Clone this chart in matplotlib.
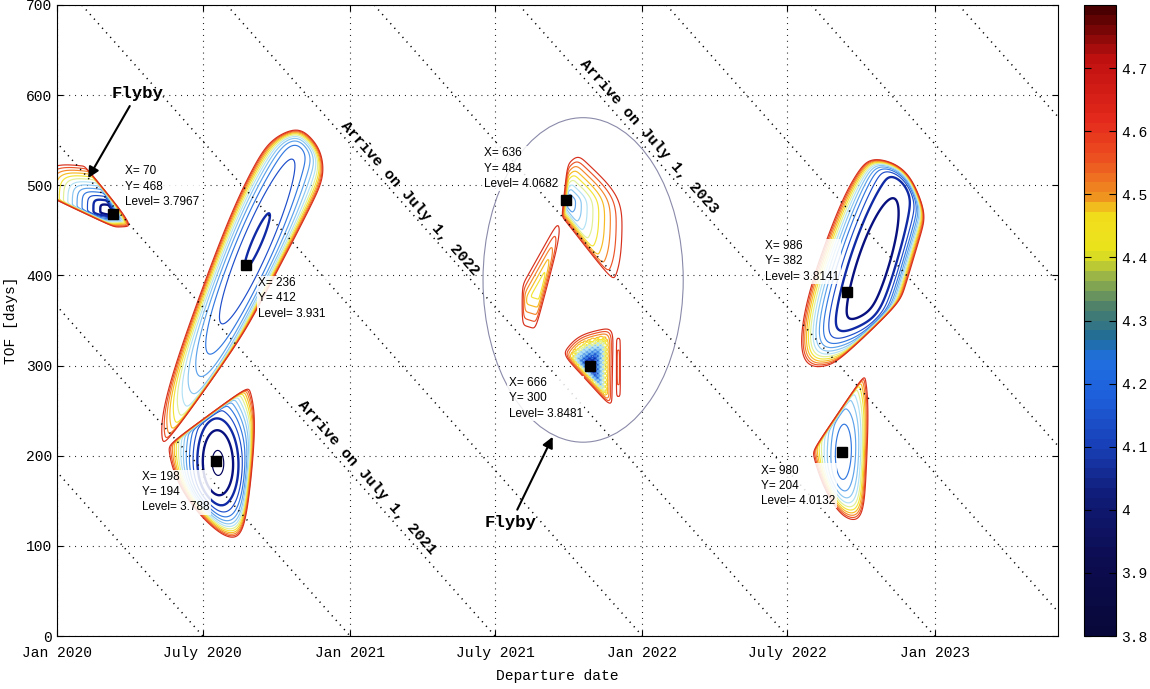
import numpy as np
import matplotlib
matplotlib.use("Agg")
import matplotlib as mpl
import matplotlib.pyplot as plt
from matplotlib.patches import Ellipse

plt.rcParams['font.family'] = 'Liberation Mono'

# departure axis, days after 1 Jan 2020
date_ticks = [0, 182, 366, 547, 731, 912, 1096]
date_names = ["Jan 2020", "July 2020", "Jan 2021", "July 2021",
              "Jan 2022", "July 2022", "Jan 2023"]
tof_ticks = [0, 100, 200, 300, 400, 500, 600, 700]

# lines of constant arrival date (1 Jan / 1 July), departure + TOF
arrive_days = [182, 366, 547, 731, 912, 1096, 1277, 1461, 1642, 1826]
arrive_names = ["Arrive on July 1, 2021", "Arrive on July 1, 2022", "Arrive on July 1, 2023"]
arrive_lab_x = [387, 441, 739]
arrive_lab_y = [176, 486, 554]

# data tips
tip_x = [70, 236, 198, 636, 666, 986, 980]
tip_y = [468, 412, 194, 484, 300, 382, 204]
tip_level = ["3.7967", "3.931", "3.788", "4.0682", "3.8481", "3.8141", "4.0132"]
tip_box_x = [85, 251, 106, 533, 564, 884, 879]
tip_box_y = [522, 398, 183, 542, 287, 439, 190]

# launch windows: low point, level there, outline, edge steepness, profile power,
# and inner valley (half length, half width, angle in degrees)
a_mid, a_low, a_pow, a_oval = (68, 470), 3.7967, 1.4, None
a_edge = [(-20, 444), (60, 451), (89, 446), (113, 436), (82, 470), (45, 524), (5, 532), (-20, 530)]
a_sharp = [1, 1, 4, 4, 1, 1, 1, 1]

b_mid, b_low, b_pow, b_oval = (250, 438), 3.931, 2.0, (330, 55, 64)
b_edge = [(124, 197), (245, 348), (282, 408), (338, 504), (333, 540), (303, 567),
          (264, 555), (225, 506), (140, 306), (111, 234)]
b_sharp = [6, 2, 1, 3, 3, 3, 1, 1, 1, 1]

c_mid, c_low, c_pow, c_oval = (201, 192), 3.788, 2.0, (125, 65, 92)
c_edge = [(226, 94), (235, 104), (254, 267), (249, 284), (126, 204), (143, 163), (174, 126)]
c_sharp = [1, 1.5, 1, 6, 1, 1, 1]

d_mid, d_low, d_pow, d_oval = (639, 484), 4.0682, 1.0, None
d_edge = [(630, 465), (704, 381), (711, 385), (711, 488), (649, 540), (637, 525)]
d_sharp = [2, 1, 1, 1, 1, 1]

d2_mid, d2_low, d2_pow, d2_oval = (603, 385), 4.36, 1.2, None
d2_edge = [(580, 340), (625, 328), (630, 445), (645, 495), (580, 392)]
d2_sharp = [1, 1, 1, 1, 3]

e_mid, e_low, e_pow, e_oval = (666, 300), 3.8481, 1.2, None
e_edge = [(630, 313), (694, 251), (696, 345), (646, 335)]
e_sharp = [1, 1, 1, 1]

s_mid, s_low, s_pow, s_oval = (701, 298), 4.58, 1.5, None
s_edge = [(698, 258), (704, 258), (704, 338), (698, 338)]
s_sharp = [1, 1, 1, 1]

f_mid, f_low, f_pow, f_oval = (1018, 410), 3.8141, 2.0, (330, 80, 70)
f_edge = [(928, 282), (974, 301), (1055, 372), (1087, 467), (1067, 511), (1049, 526),
          (1010, 534), (979, 508), (951, 452), (921, 384), (911, 310)]
f_sharp = [1, 5, 1, 4, 4, 4, 2, 1, 1, 1, 1]

g_mid, g_low, g_pow, g_oval = (982, 204), 4.0132, 1.6, (140, 45, 88)
g_edge = [(985, 121), (1009, 125), (1017, 292), (1014, 298), (940, 201), (954, 160)]
g_sharp = [1, 1, 1, 5, 1, 1]

TOP = 4.76
levels = 3.80 + 0.07 * np.arange(14)

# printed jet, as on the colour scale
bar_stops = [(0.00, '#08083a'), (0.12, '#0c0c52'), (0.22, '#101c78'), (0.30, '#1840b8'),
             (0.38, '#1e60dc'), (0.44, '#2070e0'), (0.47, '#206c98'), (0.52, '#4a7e6c'),
             (0.57, '#98b448'), (0.61, '#e8e41c'), (0.67, '#f2dc1c'), (0.70, '#f09020'),
             (0.76, '#ec5020'), (0.82, '#e42a1c'), (0.92, '#c01010'), (1.00, '#4a0000')]
line_stops = [(0.00, '#00005a'), (0.10, '#0a1890'), (0.20, '#1a48c8'), (0.30, '#3a86e6'),
              (0.40, '#80c0f0'), (0.50, '#b8e6f4'), (0.58, '#eef27a'), (0.65, '#f5e020'),
              (0.73, '#f8a828'), (0.81, '#f26a30'), (0.89, '#e03820'), (1.00, '#b01010')]
bar_cmap = mpl.colors.LinearSegmentedColormap.from_list('bar', bar_stops, N=64)
line_cmap = mpl.colors.LinearSegmentedColormap.from_list('lines', line_stops)


def region(X, Y, mid, low, edge, sharp, q, oval, p=6):
    pts = np.array(edge, float)
    cx, cy = mid
    xs, ys = pts[:, 0], pts[:, 1]
    orient = np.sign(np.sum(xs * np.roll(ys, -1) - np.roll(xs, -1) * ys))
    acc = np.zeros_like(X)
    for i in range(len(pts)):
        x0, y0 = pts[i]
        x1, y1 = pts[(i + 1) % len(pts)]
        nx, ny = orient * (y1 - y0), -orient * (x1 - x0)
        h = nx * (x0 - cx) + ny * (y0 - cy)
        t = np.clip((nx * (X - cx) + ny * (Y - cy)) / h, 0, 4)
        acc += (t ** sharp[i]) ** p
    g = acc ** (1.0 / p)
    if oval is not None:
        la, lb, deg = oval
        c, s = np.cos(np.radians(deg)), np.sin(np.radians(deg))
        u = (X - cx) * c + (Y - cy) * s
        v = -(X - cx) * s + (Y - cy) * c
        e = np.hypot(u / la, v / lb)
        g = (e ** 4 + g ** 10) ** 0.25
    return low + (TOP - low) * g ** q, g


xs = np.arange(0, 1251, 1.0)
ys = np.arange(0, 701, 1.0)
X, Y = np.meshgrid(xs, ys)

field = np.full_like(X, 10.0)
for mid, low, edge, sharp, q, oval in [
        (a_mid, a_low, a_edge, a_sharp, a_pow, a_oval),
        (b_mid, b_low, b_edge, b_sharp, b_pow, b_oval),
        (c_mid, c_low, c_edge, c_sharp, c_pow, c_oval),
        (d_mid, d_low, d_edge, d_sharp, d_pow, d_oval),
        (d2_mid, d2_low, d2_edge, d2_sharp, d2_pow, d2_oval),
        (s_mid, s_low, s_edge, s_sharp, s_pow, s_oval),
        (f_mid, f_low, f_edge, f_sharp, f_pow, f_oval),
        (g_mid, g_low, g_edge, g_sharp, g_pow, g_oval)]:
    z, _ = region(X, Y, mid, low, edge, sharp, q, oval)
    field = np.minimum(field, z)

# the second flyby window is ragged inside
ze, ge = region(X, Y, e_mid, e_low, e_edge, e_sharp, e_pow, e_oval)
w = np.clip((0.8 - ge) / 0.25, 0, 1)
ze = ze + 0.12 * w * np.sin(X * 0.9) * np.sin(Y * 1.3)
field = np.minimum(field, ze)

fig = plt.figure(figsize=(11.5, 6.89), dpi=100)
ax = fig.add_axes([57 / 1150, 53 / 689, 1001 / 1150, 631 / 689])
cax = fig.add_axes([1084 / 1150, 53 / 689, 32 / 1150, 631 / 689])

ax.set_xlim(0, 1250)
ax.set_ylim(0, 700)

norm = mpl.colors.Normalize(3.8, 4.8)
lws = [1.7 if 3.84 < v < 3.95 else 0.85 for v in levels]
ax.contour(X, Y, field, levels=levels, cmap=line_cmap, norm=norm, linewidths=lws, zorder=2)

for d in arrive_days:
    ax.plot([d - 700, d], [700, 0], color='k', lw=1.1, dashes=(0.8, 3.2), zorder=3)

ang = ax.transData.transform([(0, 100), (100, 0)])
rot = np.degrees(np.arctan2(ang[1][1] - ang[0][1], ang[1][0] - ang[0][0]))
for name, lx, ly in zip(arrive_names, arrive_lab_x, arrive_lab_y):
    ax.text(lx, ly, name, rotation=rot, rotation_mode='anchor', ha='center', va='center',
            fontsize=11, fontweight='bold', zorder=4)

ax.add_patch(Ellipse((657, 395), 250, 360, fill=False, ec='#8a8aaa', lw=0.8, zorder=3))

ax.plot(tip_x, tip_y, 's', color='k', ms=7.5, zorder=6)
for tx, ty, bx, by, lv in zip(tip_x, tip_y, tip_box_x, tip_box_y, tip_level):
    ax.text(bx, by, "X= %d\nY= %d\nLevel= %s" % (tx, ty, lv), ha='left', va='top',
            fontsize=8.5, family='Liberation Sans', linespacing=1.35, zorder=5,
            bbox=dict(fc='white', ec='none', alpha=0.85, pad=1))

arrow = dict(arrowstyle='-|>', color='k', lw=1.5, mutation_scale=16, shrinkA=2, shrinkB=0)
ax.annotate("Flyby", xy=(39, 508), xytext=(100, 602), ha='center', va='center',
            fontsize=12.5, fontweight='bold', arrowprops=arrow, zorder=6)
ax.annotate("Flyby", xy=(619, 221), xytext=(567, 126), ha='center', va='center',
            fontsize=12.5, fontweight='bold', arrowprops=arrow, zorder=6)

ax.set_xticks(date_ticks)
ax.set_xticklabels(date_names)
ax.set_yticks(tof_ticks)
ax.tick_params(direction='in', top=True, right=True, labelsize=10.5, length=4)
ax.tick_params(axis='x', pad=7)
ax.grid(True, color='k', lw=0.8, dashes=(0.8, 4.5))
ax.set_axisbelow(True)
ax.set_xlabel("Departure date", fontsize=10.5, labelpad=7)
ax.set_ylabel("TOF [days]", fontsize=10.5)
ax.yaxis.set_label_coords(-0.039, 0.5)

cb = fig.colorbar(mpl.cm.ScalarMappable(norm=norm, cmap=bar_cmap), cax=cax)
cb.set_ticks([3.8, 3.9, 4.0, 4.1, 4.2, 4.3, 4.4, 4.5, 4.6, 4.7])
cb.set_ticklabels(["3.8", "3.9", "4", "4.1", "4.2", "4.3", "4.4", "4.5", "4.6", "4.7"])
cax.tick_params(direction='in', left=True, right=True, length=5, labelsize=10.5, color='k')

fig.savefig("out.png", dpi=100)
